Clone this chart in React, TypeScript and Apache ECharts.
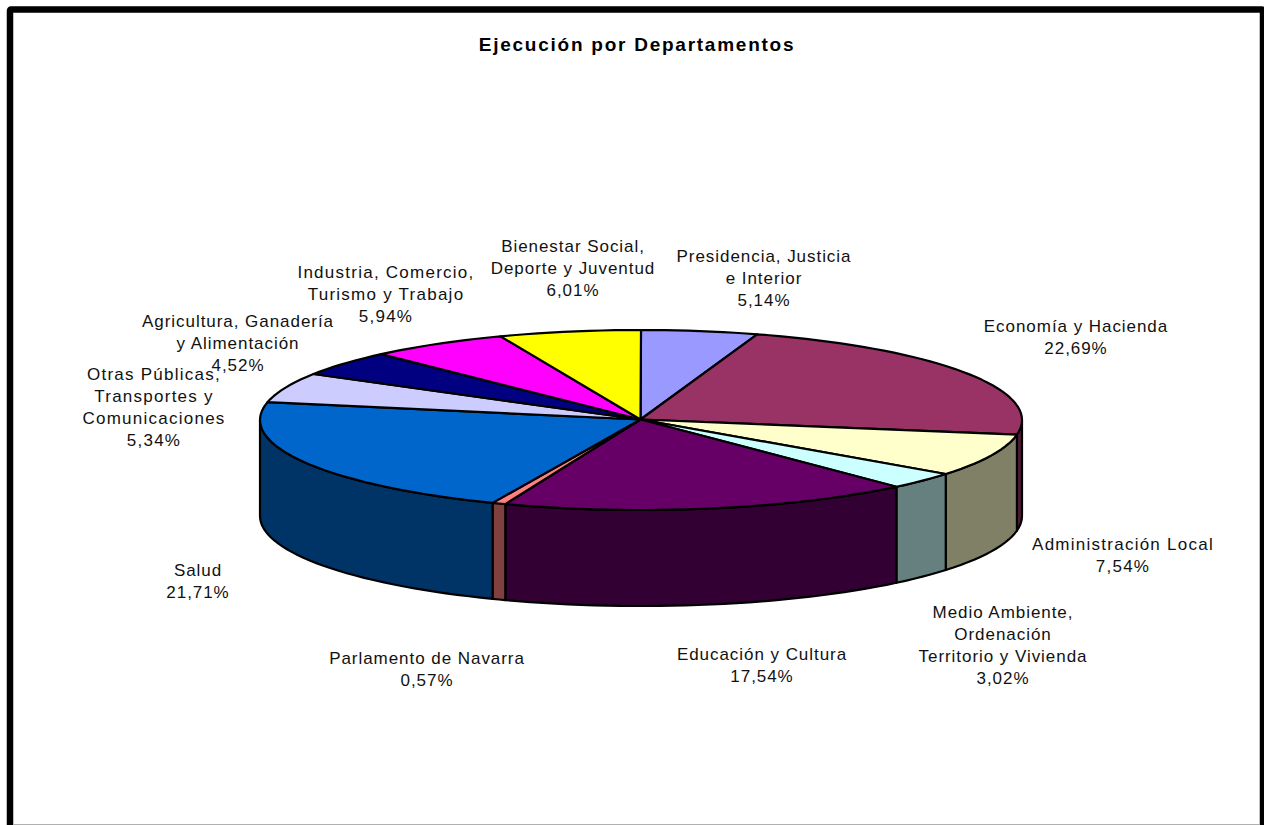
import React, { useEffect, useRef } from "react";
import * as echarts from "echarts";

const titleText = "Ejecución por Departamentos";
const categories = [
  "Presidencia, Justicia\ne Interior",
  "Economía y Hacienda",
  "Administración Local",
  "Medio Ambiente,\nOrdenación\nTerritorio y Vivienda",
  "Educación y Cultura",
  "Parlamento de Navarra",
  "Salud",
  "Otras Públicas,\nTransportes y\nComunicaciones",
  "Agricultura, Ganadería\ny Alimentación",
  "Industria, Comercio,\nTurismo y Trabajo",
  "Bienestar Social,\nDeporte y Juventud",
];
const values = [5.14, 22.69, 7.54, 3.02, 17.54, 0.57, 21.71, 5.34, 4.52, 5.94, 6.01];
const topColors = ["#9999FF", "#993366", "#FFFFCC", "#CCFFFF", "#660066", "#FF8080", "#0066CC", "#CCCCFF", "#000080", "#FF00FF", "#FFFF00"];
const sideColors = ["#4D4D80", "#4D1A33", "#808066", "#668080", "#330033", "#804040", "#003366", "#666680", "#000040", "#800080", "#808000"];
// label block centres and sizes, in pixels
const labelX = [764, 1076, 1123, 1003, 762, 427, 198, 154, 238, 386, 573];
const labelY = [278, 337, 555, 645, 665, 669, 581, 407, 343, 294, 268];
const labelSize = [17, 17, 17.01, 17, 17, 17, 17, 17.01, 17, 17.01, 17];

const CX = 641, CY = 420, RX = 381, RY = 90, DEPTH = 96;
const total = values.reduce((a, b) => a + b, 0);
const cum: number[] = [];
values.reduce((a, b, i) => ((cum[i] = a), a + b), 0);

const DEG = Math.PI / 180;
const angle = (v: number) => (v / total) * Math.PI * 2;
// Small correction for the foreshortening of the original's 3-D view.
const viewAt = [0, 20, 100, 140, 200, 285, 360];
const viewOff = [0, 0.8, 0.8, 0.25, 0.45, 0, 0];
const view = (t: number) => {
  const d = t / DEG;
  let off = 0;
  for (let k = 0; k < viewAt.length - 1; k++) {
    if (d >= viewAt[k] && d <= viewAt[k + 1]) {
      off = viewOff[k] + ((viewOff[k + 1] - viewOff[k]) * (d - viewAt[k])) / (viewAt[k + 1] - viewAt[k]);
      break;
    }
  }
  return t - off * DEG;
};
const pt = (t: number, dy = 0) => {
  const v = view(t);
  return [CX + RX * Math.sin(v), CY - RY * Math.cos(v) + dy];
};
const arc = (a: number, b: number, dy = 0) => {
  const n = Math.max(2, Math.ceil((b - a) / DEG / 2));
  const out: number[][] = [];
  for (let i = 0; i <= n; i++) out.push(pt(a + ((b - a) * i) / n, dy));
  return out;
};
const fmt = (v: number) => v.toFixed(2).replace(".", ",") + "%";

export default function App() {
  const ref = useRef<HTMLDivElement>(null);
  useEffect(() => {
    const chart = echarts.init(ref.current!, undefined, { renderer: "svg" });
    const seriesData = values.map((v) => [v]);
    chart.setOption({
      animation: false,
      backgroundColor: "#fff",
      title: {
        text: titleText,
        left: 632,
        top: 30,
        textAlign: "center",
        textStyle: { fontFamily: "Liberation Sans, Arial", fontSize: 19, fontWeight: "bold", color: "#000" },
      },
      graphic: [
        { type: "rect", silent: true, z: -1, shape: { x: 10, y: 9.5, width: 1253, height: 900, r: 1 }, style: { fill: "#fff", stroke: "#000", lineWidth: 6.5 } },
        { type: "rect", silent: true, z: 0, shape: { x: 13, y: 824, width: 1247, height: 1 }, style: { fill: "#b0b0b0" } },
      ],
      series: [
        {
          type: "custom",
          coordinateSystem: "none",
          silent: true,
          z: 2,
          data: seriesData,
          renderItem: (p: any, api: any) => {
            const i = p.dataIndex;
            const a = angle(cum[i]);
            const b = a + angle(api.value(0));
            const s = Math.max(view(a), Math.PI / 2);
            const e = Math.min(view(b), (Math.PI * 3) / 2);
            if (e <= s) return { type: "group", children: [] };
            const raw = (t: number, dy: number) => [CX + RX * Math.sin(t), CY - RY * Math.cos(t) + dy];
            const n = Math.max(2, Math.ceil((e - s) / DEG / 2));
            const lo: number[][] = [];
            const hi: number[][] = [];
            for (let k = 0; k <= n; k++) {
              const t = s + ((e - s) * k) / n;
              hi.push(raw(t, 0));
              lo.push(raw(t, DEPTH));
            }
            return {
              type: "polygon",
              shape: { points: [...hi, ...lo.reverse()] },
              style: { fill: sideColors[i], stroke: "#000", lineWidth: 2.2, lineJoin: "round" },
            };
          },
        },
        {
          type: "custom",
          coordinateSystem: "none",
          silent: true,
          z: 3,
          data: seriesData,
          renderItem: (p: any, api: any) => {
            const i = p.dataIndex;
            const a = angle(cum[i]);
            const b = a + angle(api.value(0));
            return {
              type: "polygon",
              shape: { points: [[CX - 0.5, CY - 0.5], ...arc(a, b)] },
              style: { fill: topColors[i], stroke: "#000", lineWidth: 2.2, lineJoin: "round" },
            };
          },
        },
        {
          type: "custom",
          coordinateSystem: "none",
          silent: true,
          z: 4,
          data: seriesData,
          renderItem: (p: any, api: any) => {
            const i = p.dataIndex;
            return {
              type: "text",
              x: labelX[i],
              y: labelY[i],
              style: {
                text: categories[i] + "\n" + fmt(api.value(0)),
                align: "center",
                verticalAlign: "middle",
                fontFamily: "Liberation Sans, Arial",
                fontSize: labelSize[i],
                lineHeight: 22,
                fill: "#111",
              },
            };
          },
        },
      ],
    });
    return () => chart.dispose();
  }, []);
  return (
    <>
      <style>{`svg text { letter-spacing: 0.95px; }
svg text[style*="17.01px"] { letter-spacing: 1.25px; }
svg text[style*="bold"] { letter-spacing: 1.75px; }`}</style>
      <div ref={ref} style={{ position: "fixed", left: 0, top: 0, width: 1264, height: 825 }} />
    </>
  );
}
